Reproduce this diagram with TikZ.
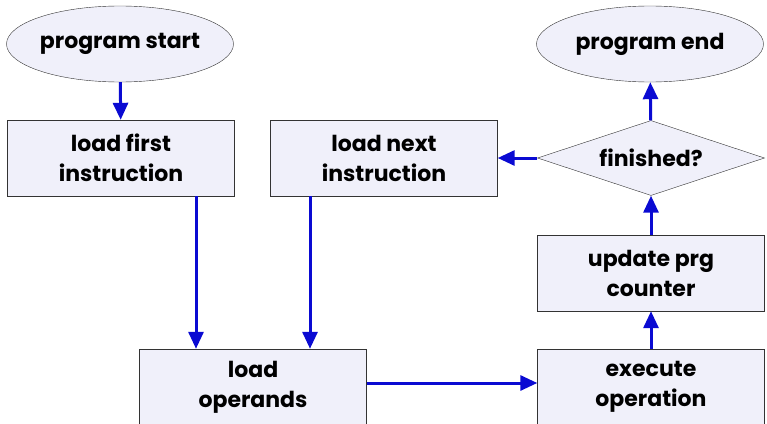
\documentclass[tikz,border=0pt]{standalone}
\usepackage{fontspec}
\setmainfont{Poppins}
\usetikzlibrary{shapes.geometric,arrows.meta}
\definecolor{boxfill}{RGB}{240,240,250}
\definecolor{flowblue}{RGB}{10,10,210}

\begin{document}
\begin{tikzpicture}[x=1pt,y=-1pt,
    txt/.style={font=\fontsize{22}{30}\selectfont\bfseries,align=center},
    box/.style={txt,draw=black!80,fill=boxfill,inner sep=0pt,minimum width=227pt,minimum height=76pt},
    term/.style={box,ellipse},
    test/.style={box,diamond,aspect=3,minimum height=75pt},
    flow/.style={flowblue,line width=3pt,-{Triangle[length=17pt,width=15pt]}}]
        \useasboundingbox (0,0) rectangle (767,423);
        % nodes
        \node[term] (start) at (120,44) {program start};
        \node[box] (first) at (121,158) {load first\\instruction};
        \node[box] (next) at (384,158) {load next\\instruction};
        \node[test] (done) at (651,158) {finished?};
        \node[term] (stop) at (650,44) {program end};
        \node[box] (update) at (651,273) {update prg\\counter};
        \node[box] (exec) at (651,387) {execute\\operation};
        \node[box] (ops) at (253,387) {load\\operands};
        % arrows
        \draw[flow] (start) -- (first);
        \draw[flow] (first.south -| 196,0) -- (ops.north -| 196,0);
        \draw[flow] (next.south -| 310,0) -- (ops.north -| 310,0);
        \draw[flow] (ops.east |- 0,383) -- (exec.west |- 0,383);
        \draw[flow] (exec) -- (update);
        \draw[flow] (update) -- (done);
        \draw[flow] (done) -- (stop);
        \draw[flow] (done) -- (next);
\end{tikzpicture}
\end{document}
